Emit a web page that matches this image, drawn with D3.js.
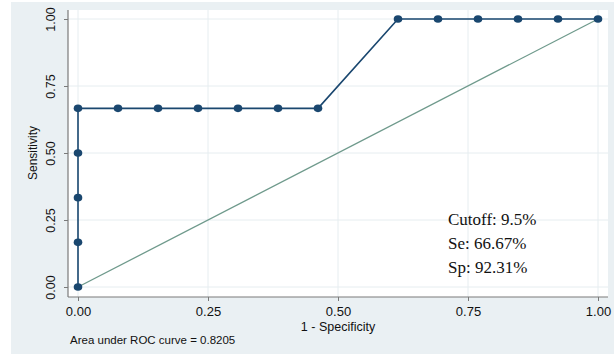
<!DOCTYPE html>
<html><head><meta charset="utf-8">
<script src="https://cdn.jsdelivr.net/npm/d3@7"></script>
<style>html,body{margin:0;padding:0;background:#fff;}svg{display:block;}</style>
</head><body>
<script>
// Data: ROC points (1 - specificity, sensitivity)
const fpr = [0, 0, 0, 0, 0, 1/13, 2/13, 3/13, 4/13, 5/13, 6/13, 8/13, 9/13, 10/13, 11/13, 12/13, 1];
const tpr = [0, 1/6, 2/6, 3/6, 4/6, 4/6, 4/6, 4/6, 4/6, 4/6, 4/6, 1, 1, 1, 1, 1, 1];
const refX = [0, 1];
const refY = [0, 1];
const xTicks = [0, 0.25, 0.5, 0.75, 1];
const yTicks = [0, 0.25, 0.5, 0.75, 1];
const annotation = ["Cutoff: 9.5%", "Se: 66.67%", "Sp: 92.31%"];
const aucNote = "Area under ROC curve = 0.8205";

const W = 614, H = 354;
const svg = d3.select("body").append("svg").attr("width", W).attr("height", H);
svg.append("rect").attr("x", 11).attr("y", 2).attr("width", W - 11).attr("height", H - 2).attr("fill", "#eaf0f3");
const plot = {l: 68, r: 608, t: 10, b: 297};
svg.append("rect").attr("x", plot.l).attr("y", plot.t).attr("width", plot.r - plot.l).attr("height", plot.b - plot.t).attr("fill", "#fff");

const x = d3.scaleLinear().domain([0, 1]).range([78, 598]);
const y = d3.scaleLinear().domain([0, 1]).range([287, 19]);

// gridlines
svg.append("g").selectAll("line").data(xTicks).join("line")
  .attr("x1", d => x(d)).attr("x2", d => x(d)).attr("y1", plot.t).attr("y2", plot.b)
  .attr("stroke", "#e6edf0").attr("stroke-width", 1);
svg.append("g").selectAll("line").data(yTicks).join("line")
  .attr("x1", plot.l).attr("x2", plot.r).attr("y1", d => y(d)).attr("y2", d => y(d))
  .attr("stroke", "#e6edf0").attr("stroke-width", 1);

// axes
const fmt = d3.format(".2f");
const xAxis = svg.append("g").attr("transform", `translate(0,${plot.b})`)
  .call(d3.axisBottom(x).tickValues(xTicks).tickFormat(fmt).tickSize(4).tickSizeOuter(0).tickPadding(6));
xAxis.select(".domain").attr("d", `M${plot.l},0H${plot.r}`);
const yAxis = svg.append("g").attr("transform", `translate(${plot.l},0)`)
  .call(d3.axisLeft(y).tickValues(yTicks).tickFormat(fmt).tickSize(4).tickSizeOuter(0).tickPadding(6));
yAxis.select(".domain").attr("d", `M0,${plot.t}V${plot.b}`);
[xAxis, yAxis].forEach(a => {
  a.select(".domain").attr("stroke", "#7a7a7a").attr("stroke-width", 1.2);
  a.selectAll(".tick line").attr("stroke", "#7a7a7a");
  a.selectAll("text").attr("font-family", "Liberation Sans, Arial, sans-serif").attr("fill", "#111");
});
xAxis.selectAll("text").attr("font-size", 13);
yAxis.selectAll(".tick text")
  .attr("font-size", 12.5)
  .attr("x", 0).attr("y", 0).attr("dy", 0)
  .attr("text-anchor", "middle")
  .attr("transform", "translate(-13,0) rotate(-90)");

// axis titles
svg.append("text").attr("x", 338).attr("y", 331).attr("text-anchor", "middle")
  .attr("font-family", "Liberation Sans, Arial, sans-serif").attr("font-size", 12.5).attr("fill", "#111").text("1 - Specificity");
svg.append("text").attr("transform", `translate(37,153) rotate(-90)`).attr("text-anchor", "middle")
  .attr("font-family", "Liberation Sans, Arial, sans-serif").attr("font-size", 12).attr("fill", "#111").text("Sensitivity");

// reference line
svg.append("path").datum(refX.map((d, i) => [d, refY[i]]))
  .attr("d", d3.line().x(d => x(d[0])).y(d => y(d[1])))
  .attr("fill", "none").attr("stroke", "#6f9a8c").attr("stroke-width", 1.3);

// ROC curve
const pts = fpr.map((d, i) => [d, tpr[i]]);
svg.append("path").datum(pts)
  .attr("d", d3.line().x(d => x(d[0])).y(d => y(d[1])))
  .attr("fill", "none").attr("stroke", "#1a476f").attr("stroke-width", 1.6);
svg.append("g").selectAll("ellipse").data(pts).join("ellipse")
  .attr("cx", d => x(d[0])).attr("cy", d => y(d[1])).attr("rx", 4.3).attr("ry", 3.8)
  .attr("fill", "#1a476f");

// annotation
svg.append("g").selectAll("text").data(annotation).join("text")
  .attr("x", 448).attr("y", (d, i) => 225 + i * 24)
  .attr("font-family", "Liberation Serif, Times New Roman, serif").attr("font-size", 17).attr("fill", "#111")
  .text(d => d);

svg.append("text").attr("x", 70).attr("y", 344)
  .attr("font-family", "Liberation Sans, Arial, sans-serif").attr("font-size", 11.5).attr("fill", "#111").text(aucNote);
</script>
</body></html>
